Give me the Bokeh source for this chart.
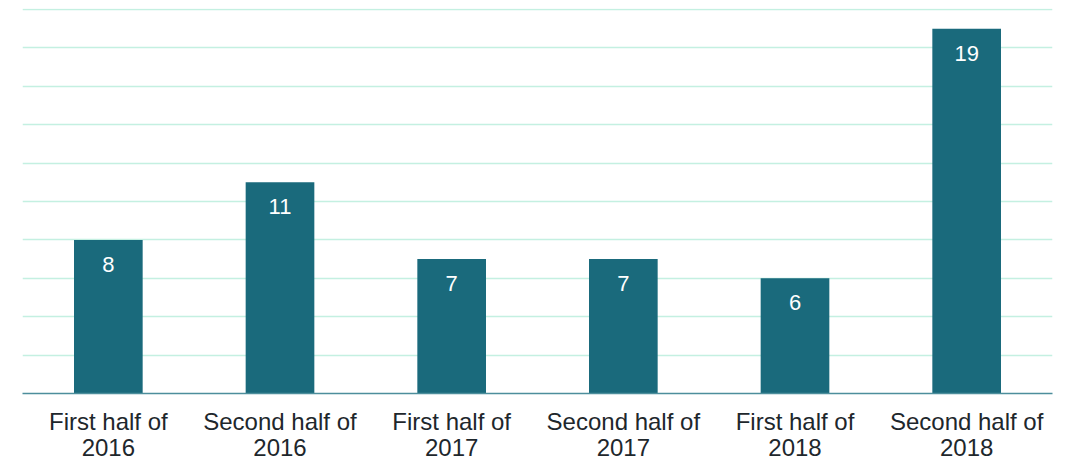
from bokeh.plotting import figure
from bokeh.models import (FactorRange, Range1d, SingleIntervalTicker, ColumnDataSource,
                          CategoricalAxis, CustomJSTickFormatter)
from bokeh.core.properties import value
from bokeh.embed import file_html
from bokeh.resources import INLINE

categories = ["First half of 2016", "Second half of 2016", "First half of 2017",
              "Second half of 2017", "First half of 2018", "Second half of 2018"]
label_line1 = ["First half of", "Second half of", "First half of",
               "Second half of", "First half of", "Second half of"]
label_line2 = ["2016", "2016", "2017", "2017", "2018", "2018"]
counts = [8, 11, 7, 7, 6, 19]

src = ColumnDataSource(data=dict(cat=categories, val=counts, lbl=[str(v) for v in counts]))

p = figure(width=1066, height=462, x_range=FactorRange(*categories, range_padding=0),
           y_range=Range1d(0, 20.05), output_backend="svg", toolbar_location=None,
           min_border_left=22, min_border_right=14, min_border_top=8, min_border_bottom=69)
p.outline_line_color = None
p.background_fill_color = "white"
p.border_fill_color = "white"

p.vbar(x="cat", top="val", width=0.4, source=src, fill_color="#1a6a7c", line_color=None)
p.text(x="cat", y="val", text="lbl", source=src, text_align="center", text_baseline="top",
       y_offset=17, text_color="white", text_font=value("Liberation Sans"), text_font_size="22px")

p.yaxis.visible = False
p.xgrid.grid_line_color = None
p.ygrid.ticker = SingleIntervalTicker(interval=2)
p.ygrid.grid_line_color = "#c4f0e1"
p.ygrid.grid_line_width = 1.5

js = "const i = cats.indexOf(tick); return i >= 0 ? labels[i] : tick;"

ax = p.xaxis[0]
ax.axis_line_color = "#4d8e9c"
ax.axis_line_width = 1.5
ax.major_tick_line_color = None
ax.minor_tick_line_color = None
ax.formatter = CustomJSTickFormatter(args=dict(cats=categories, labels=label_line1), code=js)
ax.major_label_text_font = "Liberation Sans"
ax.major_label_text_font_size = "24px"
ax.major_label_text_color = "#1e272c"
ax.major_label_standoff = 8

ax2 = CategoricalAxis()
ax2.axis_line_color = None
ax2.major_tick_line_color = None
ax2.minor_tick_line_color = None
ax2.formatter = CustomJSTickFormatter(args=dict(cats=categories, labels=label_line2), code=js)
ax2.major_label_text_font = "Liberation Sans"
ax2.major_label_text_font_size = "24px"
ax2.major_label_text_color = "#1e272c"
ax2.major_label_standoff = -5
p.add_layout(ax2, "below")

open("out.html", "w").write(file_html(p, INLINE))
